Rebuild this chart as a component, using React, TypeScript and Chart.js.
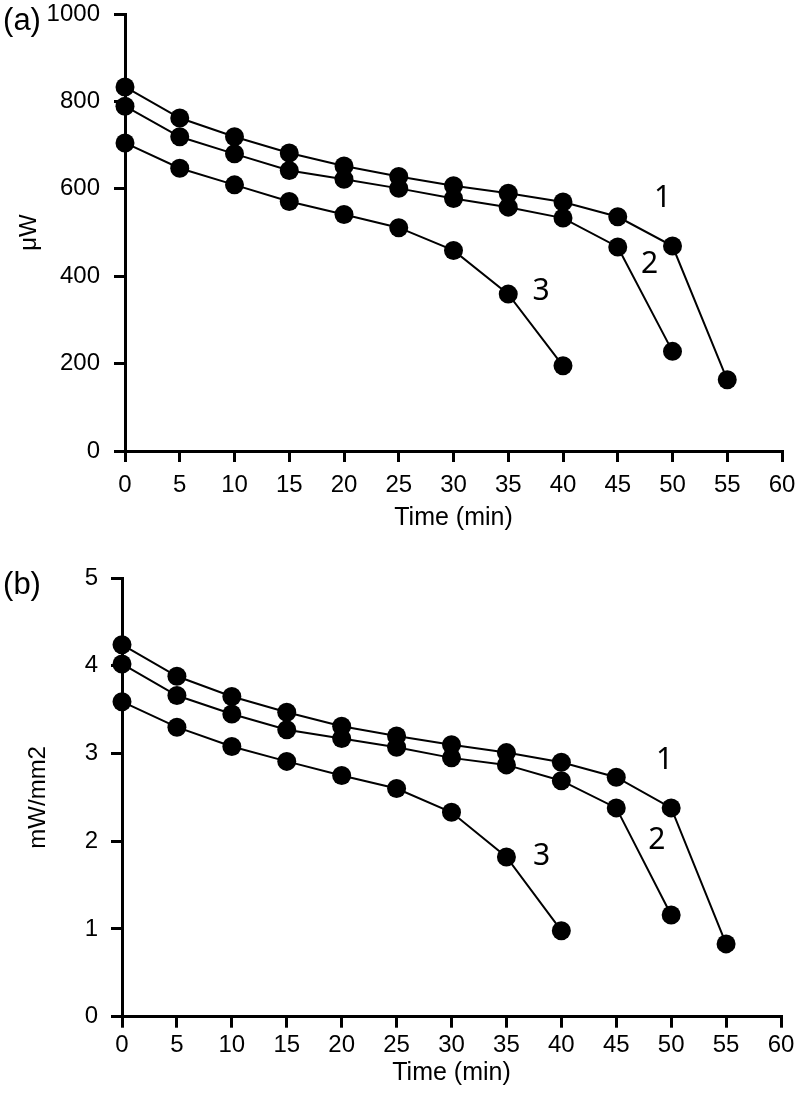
import React, { useEffect, useRef } from "react";
import { Chart, registerables } from "chart.js";

Chart.register(...registerables);

// ---- data ----
const timeMin = [0, 5, 10, 15, 20, 25, 30, 35, 40, 45, 50, 55];

// panel (a): power, µW
const powerA1 = [833, 762, 719, 682, 652, 628, 607, 590, 570, 536, 469, 163];
const powerA2 = [789, 719, 680, 642, 622, 601, 578, 558, 533, 467, 228];
const powerA3 = [705, 647, 609, 571, 541, 511, 459, 359, 195];
const yTicksA = [0, 200, 400, 600, 800, 1000];

// panel (b): power density, mW/mm2
const densB1 = [4.24, 3.88, 3.65, 3.47, 3.31, 3.2, 3.1, 3.01, 2.9, 2.73, 2.38, 0.83];
const densB2 = [4.02, 3.66, 3.45, 3.27, 3.17, 3.07, 2.95, 2.87, 2.69, 2.38, 1.16];
const densB3 = [3.59, 3.3, 3.08, 2.91, 2.75, 2.6, 2.33, 1.82, 0.98];
const yTicksB = [0, 1, 2, 3, 4, 5];

const xTicks = [0, 5, 10, 15, 20, 25, 30, 35, 40, 45, 50, 55, 60];

// curve labels (data units)
const curveLabelsA = [
  { text: "1", x: 49.1, y: 577 },
  { text: "2", x: 47.9, y: 428 },
  { text: "3", x: 38.0, y: 364 },
];
const curveLabelsB = [
  { text: "1", x: 49.4, y: 2.92 },
  { text: "2", x: 48.7, y: 2.01 },
  { text: "3", x: 38.2, y: 1.83 },
];

const SANS = '"Liberation Sans", Arial, Helvetica, sans-serif';

type PanelCfg = {
  tag: string;
  tagX: number;
  tagY: number;
  height: number;
  series: number[][];
  yTicks: number[];
  yTitle: string;
  curveLabels: { text: string; x: number; y: number }[];
  padTop: number;
  padRight: number;
  yWidth: number;
  xHeight: number;
  yTickPad: number;
  xTickPad: number;
  yTitlePad: number;
  xTitlePad: number;
};

function Panel({ cfg }: { cfg: PanelCfg }) {
  const ref = useRef<HTMLCanvasElement | null>(null);
  useEffect(() => {
    if (!ref.current) return;
    const datasets = cfg.series.map((s) => ({
      data: s.map((v, i) => ({ x: timeMin[i], y: v })),
      borderColor: "#000",
      backgroundColor: "#000",
      borderWidth: 2,
      pointRadius: 9.5,
      pointBorderWidth: 0,
      pointBackgroundColor: "#000",
      tension: 0,
      clip: false as any,
    }));
    const annot = {
      id: "annot",
      afterDatasetsDraw(chart: any) {
        const ctx = chart.ctx;
        const xs = chart.scales.x;
        const ys = chart.scales.y;
        ctx.save();
        ctx.fillStyle = "#000";
        ctx.textAlign = "center";
        ctx.textBaseline = "middle";
        ctx.font = '30px "Noto Sans", "Open Sans", sans-serif';
        cfg.curveLabels.forEach((l) => {
          ctx.fillText(l.text, xs.getPixelForValue(l.x), ys.getPixelForValue(l.y));
        });
        ctx.font = "31px " + SANS;
        ctx.fillText(cfg.tag, cfg.tagX, cfg.tagY);
        ctx.restore();
      },
    };
    const chart = new Chart(ref.current, {
      type: "line",
      data: { datasets },
      plugins: [annot],
      options: {
        responsive: false,
        animation: false,
        layout: { padding: { top: cfg.padTop, right: cfg.padRight, left: 0, bottom: 0 } },
        plugins: { legend: { display: false }, tooltip: { enabled: false } },
        scales: {
          x: {
            type: "linear",
            min: 0,
            max: 60,
            afterBuildTicks: (s: any) => {
              s.ticks = xTicks.map((v) => ({ value: v }));
            },
            afterFit: (s: any) => {
              s.height = cfg.xHeight;
              s.paddingLeft = 0;
              s.paddingRight = 0;
            },
            ticks: {
              color: "#000",
              font: { family: SANS, size: 24 },
              padding: cfg.xTickPad,
              maxRotation: 0,
              autoSkip: false,
              callback: (v: any) => String(v),
            },
            grid: {
              drawOnChartArea: false,
              drawTicks: true,
              tickLength: 11,
              color: "#000",
              lineWidth: 3,
            },
            border: { display: true, color: "#000", width: 3 },
            title: {
              display: true,
              text: "Time (min)",
              color: "#000",
              font: { family: SANS, size: 25 },
              padding: { top: 0, bottom: cfg.xTitlePad },
            },
          },
          y: {
            type: "linear",
            min: cfg.yTicks[0],
            max: cfg.yTicks[cfg.yTicks.length - 1],
            afterBuildTicks: (s: any) => {
              s.ticks = cfg.yTicks.map((v) => ({ value: v }));
            },
            afterFit: (s: any) => {
              s.width = cfg.yWidth;
              s.paddingTop = 0;
              s.paddingBottom = 0;
            },
            ticks: {
              color: "#000",
              font: { family: SANS, size: 24 },
              padding: cfg.yTickPad,
              callback: (v: any) => String(v),
            },
            grid: {
              drawOnChartArea: false,
              drawTicks: true,
              tickLength: 11,
              color: "#000",
              lineWidth: 3,
            },
            border: { display: true, color: "#000", width: 3 },
            title: {
              display: true,
              text: cfg.yTitle,
              color: "#000",
              font: { family: SANS, size: 24 },
              padding: { top: cfg.yTitlePad, bottom: 0 },
            },
          },
        },
      } as any,
    });
    return () => chart.destroy();
  }, [cfg]);
  return (
    <canvas
      ref={ref}
      width={803}
      height={cfg.height}
      style={{ display: "block", width: 803, height: cfg.height }}
    />
  );
}

const cfgA: PanelCfg = {
  tag: "(a)",
  tagX: 22,
  tagY: 21,
  height: 540,
  series: [powerA1, powerA2, powerA3],
  yTicks: yTicksA,
  yTitle: "\u03bcW",
  curveLabels: curveLabelsA,
  padTop: 14,
  padRight: 21,
  yWidth: 125,
  xHeight: 89,
  yTickPad: 14,
  xTickPad: 9,
  yTitlePad: 14.6,
  xTitlePad: 6.7,
};

const cfgB: PanelCfg = {
  tag: "(b)",
  tagX: 22,
  tagY: 45,
  height: 560,
  series: [densB1, densB2, densB3],
  yTicks: yTicksB,
  yTitle: "mW/mm2",
  curveLabels: curveLabelsB,
  padTop: 38,
  padRight: 22,
  yWidth: 122,
  xHeight: 83.3,
  yTickPad: 13,
  xTickPad: 3,
  yTitlePad: 24.2,
  xTitlePad: 11.7,
};

export default function App() {
  return (
    <div style={{ position: "absolute", left: 0, top: 0, width: 803, height: 1100, background: "#fff" }}>
      <Panel cfg={cfgA} />
      <Panel cfg={cfgB} />
    </div>
  );
}
